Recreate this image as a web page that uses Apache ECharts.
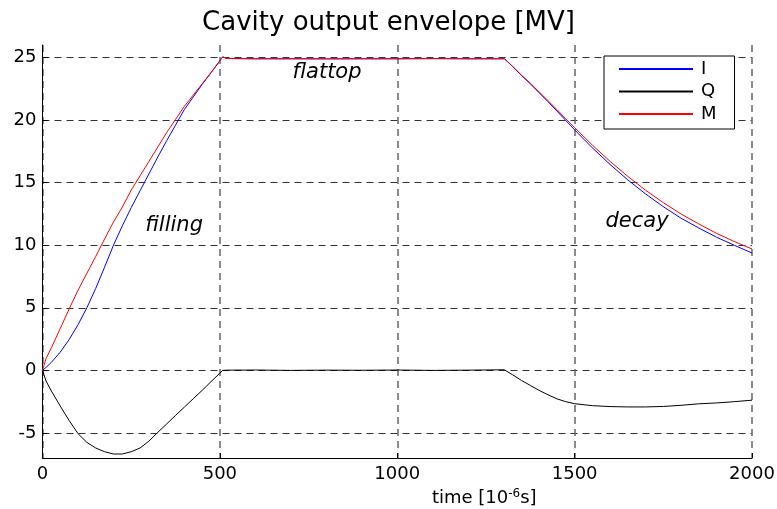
<!DOCTYPE html>
<html>
<head>
<meta charset="utf-8">
<script src="https://cdn.jsdelivr.net/npm/echarts@6/dist/echarts.min.js"></script>
<style>
  html, body { margin: 0; padding: 0; background: #fff; }
  #myEchart { width: 777px; height: 509px; }
</style>
</head>
<body>
<div id="myEchart"></div>
<script>
  // time axis in microseconds, shared by the three traces
  var timeUs = [0, 10, 25, 50, 75, 100, 125, 150, 175, 200, 225, 250, 275, 300, 325, 350, 375, 400, 425, 450, 475, 500, 508, 520,
    600, 700, 800, 900, 1000, 1100, 1200, 1302, 1325, 1350, 1375, 1400, 1425, 1450, 1475, 1500,
    1550, 1600, 1650, 1700, 1750, 1800, 1850, 1900, 1950, 2000];
  // I component [MV]
  var iVals = [0, 0.24, 0.64, 1.46, 2.46, 3.64, 5.0, 6.55, 8.25, 10.0, 11.55, 13.0, 14.35, 15.7, 17.05, 18.35, 19.6, 20.85, 21.85, 22.85, 23.78, 24.74, 25.05, 24.92,
    24.9, 24.9, 24.89, 24.9, 24.9, 24.91, 24.9, 24.9, 24.29, 23.57, 22.9, 22.18, 21.47, 20.73, 19.97, 19.22,
    17.78, 16.45, 15.22, 14.1, 13.08, 12.16, 11.38, 10.64, 10.0, 9.38];
  // Q component [MV]
  var qVals = [0, -0.85, -1.65, -2.85, -4.0, -5.05, -5.75, -6.2, -6.5, -6.68, -6.68, -6.5, -6.2, -5.65, -4.95, -4.28, -3.6, -2.93, -2.26, -1.6, -0.9, -0.22, 0, 0.02,
    0.03, 0.0, 0.02, 0.01, 0.03, 0.0, 0.02, 0.05, -0.35, -0.8, -1.2, -1.6, -1.95, -2.27, -2.5, -2.66,
    -2.82, -2.89, -2.92, -2.92, -2.88, -2.79, -2.67, -2.6, -2.5, -2.38];
  // magnitude [MV]
  var mVals = [0, 0.95, 1.8, 3.35, 4.9, 6.4, 7.75, 9.1, 10.5, 11.85, 13.05, 14.4, 15.55, 16.7, 17.85, 19.0, 20.05, 21.1, 22.0, 22.9, 23.8, 24.75, 25.05, 24.92,
    24.9, 24.9, 24.9, 24.9, 24.9, 24.92, 24.9, 24.9, 24.3, 23.6, 22.95, 22.25, 21.55, 20.85, 20.1, 19.4,
    18.0, 16.7, 15.5, 14.4, 13.4, 12.5, 11.7, 10.95, 10.3, 9.7];
  var yTicks = [-5, 0, 5, 10, 15, 20, 25];
  // phase annotations: [text, time, value]
  var notes = [['filling', 371, 11.6], ['flattop', 802, 23.8], ['decay', 1676, 11.9]];

  var fontName = 'DejaVu Sans';

  function pairs(vals) {
    return timeUs.map(function (t, k) { return [t, vals[k]]; });
  }

  var chart = echarts.init(document.getElementById('myEchart'));
  chart.setOption({
    animation: false,
    backgroundColor: '#fff',
    title: {
      text: 'Cavity output envelope [MV]',
      left: 'center',
      top: 10,
      padding: [0, 0, 0, 17],
      textStyle: { fontFamily: fontName, fontSize: 26, fontWeight: 'normal', color: '#000' }
    },
    legend: {
      data: ['I', 'Q', 'M'],
      orient: 'vertical',
      left: 604,
      top: 56,
      itemWidth: 74,
      itemHeight: 14,
      itemGap: 4.5,
      padding: [4, 18, 6, 14],
      borderColor: '#000',
      borderWidth: 1,
      borderRadius: 0,
      backgroundColor: '#fff',
      itemStyle: { opacity: 0 },
      textStyle: { fontFamily: fontName, fontSize: 18, color: '#000', padding: [0, 0, 0, 3] }
    },
    grid: {
      left: 42.5,
      right: 25,
      top: 45,
      bottom: 51,
      outerBoundsMode: 'none'
    },
    xAxis: {
      type: 'value',
      min: 0,
      max: 2000,
      interval: 500,
      name: 'time [10{sup|-6}s]',
      nameLocation: 'middle',
      nameGap: 28,
      nameTextStyle: {
        fontFamily: fontName, fontSize: 18, color: '#000',
        padding: [0, 0, 0, 174],
        rich: { sup: { fontFamily: fontName, fontSize: 12, color: '#000', padding: [0, 0, 9, 0] } }
      },
      axisLine: { onZero: false, lineStyle: { color: '#000', width: 1 } },
      axisTick: { inside: true, length: 5, lineStyle: { color: '#000' } },
      axisLabel: {
        fontFamily: fontName, fontSize: 18, color: '#000', margin: 7,
        formatter: function (v) { return String(v); }
      },
      splitLine: { show: true, lineStyle: { color: '#666', width: 1.5, type: [7, 5] } }
    },
    yAxis: {
      type: 'value',
      min: -7,
      max: 26,
      axisLine: { show: true, lineStyle: { color: '#000', width: 1 } },
      axisTick: { show: true, inside: true, length: 5, customValues: yTicks, lineStyle: { color: '#000' } },
      axisLabel: { fontFamily: fontName, fontSize: 18, color: '#000', margin: 6, customValues: yTicks },
      splitLine: { show: true, lineStyle: { color: '#333', width: 1, type: [7, 5] } }
    },
    series: [
      {
        name: 'I', type: 'line', data: pairs(iVals), symbol: 'none', silent: true,
        lineStyle: { color: '#0000ff', width: 1 }, itemStyle: { color: '#0000ff' }
      },
      {
        name: 'Q', type: 'line', data: pairs(qVals), symbol: 'none', silent: true,
        lineStyle: { color: '#000', width: 1 }, itemStyle: { color: '#000' }
      },
      {
        name: 'M', type: 'line', data: pairs(mVals), symbol: 'none', silent: true,
        lineStyle: { color: '#ff0000', width: 1 }, itemStyle: { color: '#ff0000' },
        markPoint: {
          symbol: 'circle',
          symbolSize: 0,
          silent: true,
          label: {
            show: true, position: 'inside', formatter: '{b}',
            fontFamily: fontName, fontSize: 21, fontStyle: 'italic', color: '#000'
          },
          data: notes.map(function (n) { return { name: n[0], coord: [n[1], n[2]] }; })
        }
      }
    ]
  });
</script>
</body>
</html>
